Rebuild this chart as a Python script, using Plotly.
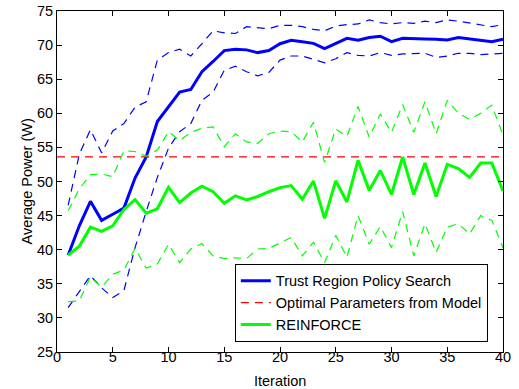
import plotly.graph_objects as go

iterations = list(range(1, 41))

trpo_mean = [39.2, 43.5, 47.1, 44.3, 45.2, 46.1, 50.5, 53.6, 58.8, 61.0,
             63.1, 63.5, 66.1, 67.6, 69.2, 69.4, 69.3, 68.9, 69.2, 70.2,
             70.7, 70.5, 70.25, 69.5, 70.25, 71.0, 70.7, 71.1, 71.3, 70.5,
             71.0, 71.0, 70.9, 70.85, 70.75, 71.1, 70.9, 70.6, 70.5, 70.85]
trpo_upper = [46.5, 54.0, 57.6, 54.2, 57.4, 58.5, 60.9, 61.7, 67.8, 68.9,
              69.4, 68.4, 70.2, 72.1, 71.8, 71.7, 72.7, 72.5, 72.4, 72.9,
              72.9, 72.7, 72.3, 72.1, 72.8, 73.0, 73.1, 73.7, 73.3, 73.1,
              73.3, 73.2, 73.5, 73.3, 73.7, 73.5, 73.2, 72.9, 72.7, 73.0]
trpo_lower = [31.5, 33.8, 36.2, 34.4, 33.0, 34.0, 40.3, 45.6, 50.6, 54.9,
              57.3, 58.5, 61.9, 63.1, 66.3, 66.9, 66.1, 65.5, 66.0, 67.8,
              68.4, 68.4, 67.9, 67.4, 68.0, 68.9, 68.5, 68.4, 68.9, 68.5,
              68.7, 68.8, 68.8, 68.2, 68.4, 68.8, 68.8, 68.6, 68.7, 68.8]

reinforce_mean = [39.2, 40.5, 43.3, 42.7, 43.5, 45.9, 47.35, 45.35, 46.0, 49.15,
                  46.9, 48.3, 49.3, 48.5, 46.8, 47.9, 47.3, 47.8, 48.5, 49.1,
                  49.4, 47.4, 50.05, 44.6, 50.1, 47.0, 53.1, 48.7, 51.6, 48.1,
                  53.6, 48.1, 52.7, 47.8, 52.5, 51.9, 50.6, 52.7, 52.7, 48.6]
reinforce_upper = [45.7, 48.9, 51.0, 51.1, 50.7, 54.5, 54.4, 53.7, 54.6, 57.3,
                   56.0, 57.2, 57.8, 58.0, 55.1, 57.0, 55.8, 55.6, 57.0, 57.4,
                   57.3, 55.8, 58.7, 52.8, 57.7, 56.6, 61.0, 56.5, 59.9, 57.2,
                   61.3, 57.2, 61.7, 57.0, 61.9, 60.0, 59.1, 60.0, 61.2, 56.8]
reinforce_lower = [32.4, 32.5, 36.0, 34.5, 36.4, 37.0, 40.2, 37.3, 37.9, 40.8,
                   38.1, 40.1, 40.9, 39.1, 38.7, 38.8, 38.7, 40.1, 40.2, 41.0,
                   41.8, 39.1, 41.1, 38.1, 42.1, 38.9, 45.0, 40.8, 43.4, 40.3,
                   45.6, 39.1, 43.8, 39.6, 43.3, 43.8, 42.3, 45.0, 44.3, 40.3]

optimal_value = 53.6

x_ticks = [0, 5, 10, 15, 20, 25, 30, 35, 40]
y_ticks = [25, 30, 35, 40, 45, 50, 55, 60, 65, 70, 75]

x_title = "Iteration"
y_title = "Average Power (W)"

BLUE = "#0000FF"
GREEN = "#00FF00"
RED = "#FF0000"
DASH = "8px,6px"
FONT = "Liberation Sans, Arial, sans-serif"

fig = go.Figure()

for ys in (trpo_upper, trpo_lower):
    fig.add_trace(go.Scatter(x=iterations, y=ys, mode="lines", showlegend=False,
                             hoverinfo="skip",
                             line=dict(color=BLUE, width=1.2, dash=DASH)))
fig.add_trace(go.Scatter(x=iterations, y=trpo_mean, mode="lines",
                         name="Trust Region Policy Search",
                         line=dict(color=BLUE, width=3)))
fig.add_trace(go.Scatter(x=[0, 40], y=[optimal_value, optimal_value], mode="lines",
                         name="Optimal Parameters from Model",
                         line=dict(color=RED, width=1.2, dash=DASH)))
for ys in (reinforce_upper, reinforce_lower):
    fig.add_trace(go.Scatter(x=iterations, y=ys, mode="lines", showlegend=False,
                             hoverinfo="skip",
                             line=dict(color=GREEN, width=1.2, dash=DASH)))
fig.add_trace(go.Scatter(x=iterations, y=reinforce_mean, mode="lines",
                         name="REINFORCE",
                         line=dict(color=GREEN, width=3)))

axis_common = dict(showline=True, linecolor="black", linewidth=1, mirror="allticks",
                   ticks="inside", ticklen=5, tickcolor="black", tickwidth=1,
                   showgrid=False, zeroline=False, automargin=False,
                   tickfont=dict(family=FONT, size=14.5, color="black"))

fig.update_xaxes(range=[0, 40], tickvals=x_ticks, ticktext=[str(v) for v in x_ticks],
                 ticklabelstandoff=-8, **axis_common)
fig.update_yaxes(range=[25, 75], tickvals=y_ticks, ticktext=[str(v) for v in y_ticks],
                 **axis_common)

fig.add_annotation(text=x_title, xref="paper", yref="paper", x=0.5, y=-0.085,
                   xanchor="center", yanchor="middle", showarrow=False,
                   font=dict(family=FONT, size=14.5, color="black"))
fig.add_annotation(text=y_title, xref="paper", yref="paper", x=-0.0695, y=0.5,
                   xanchor="center", yanchor="middle", showarrow=False, textangle=-90,
                   font=dict(family=FONT, size=14.5, color="black"))

fig.update_layout(
    width=519, height=389,
    margin=dict(l=57, r=16, t=11, b=37, autoexpand=False),
    plot_bgcolor="white", paper_bgcolor="white",
    font=dict(family=FONT, size=14.5, color="black"),
    legend=dict(x=0.966, y=0.03, xanchor="right", yanchor="bottom",
                bgcolor="white", bordercolor="black", borderwidth=1,
                font=dict(family=FONT, size=14.5, color="black"),
                tracegroupgap=0),
)

fig.write_html("out.html")
